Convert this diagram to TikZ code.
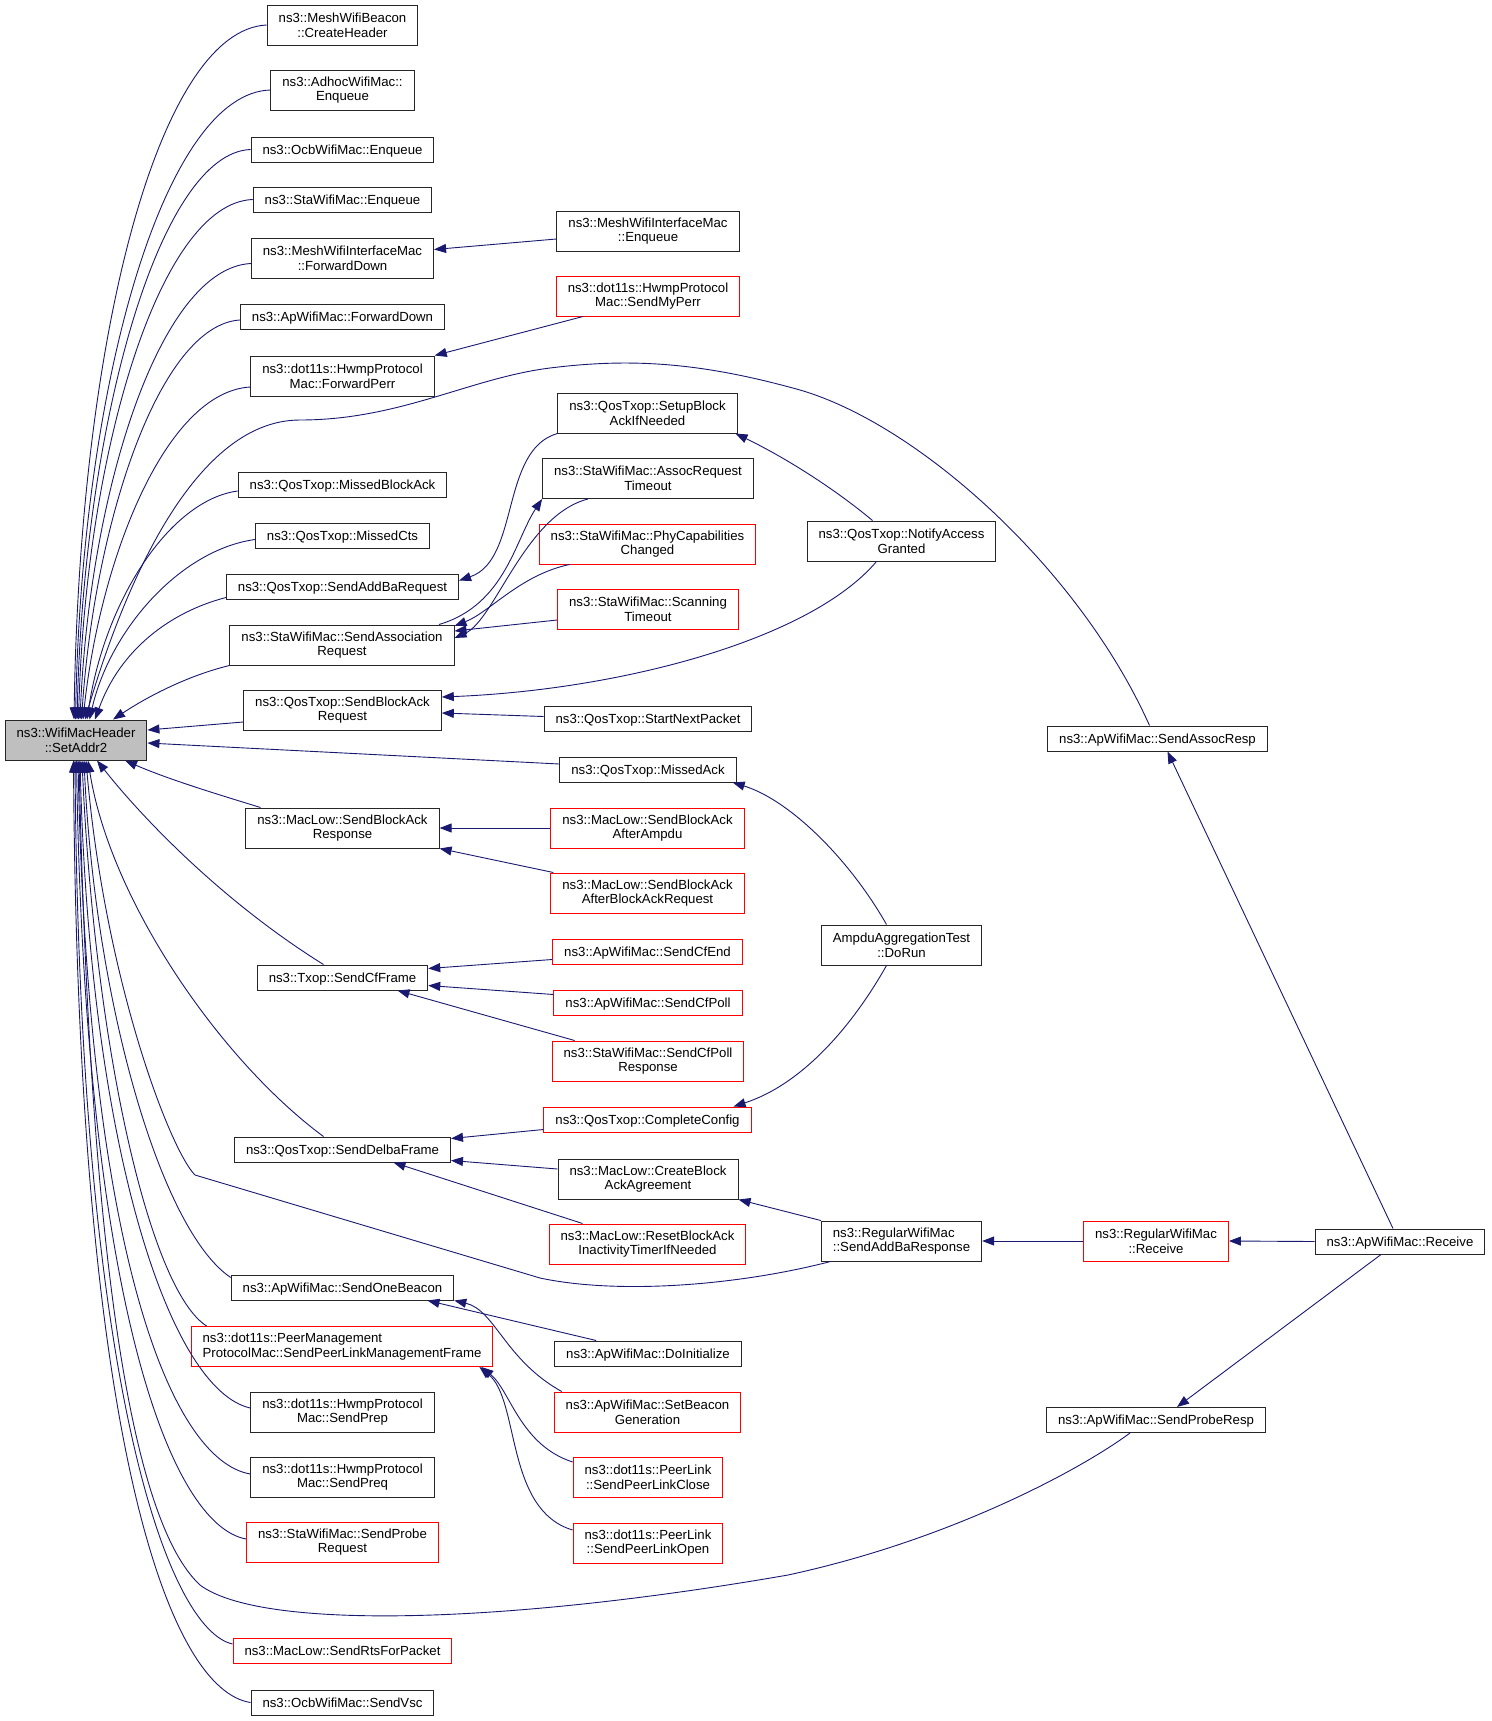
\documentclass[tikz,border=0pt]{standalone}
\usepackage{fontspec}
\setmainfont{Liberation Sans}
\usetikzlibrary{arrows.meta}
\definecolor{edgeblue}{HTML}{191970}
\definecolor{rootgray}{HTML}{BFBFBF}

\begin{document}
\begin{tikzpicture}[x=1pt,y=-1pt,
	fn/.style={draw=black!85,line width=1pt,rectangle,align=center,inner xsep=11.5pt,inner ysep=0pt,
		minimum height=25pt,text height=10pt,text depth=1pt,font=\fontsize{13.2pt}{14.7pt}\selectfont},
	two/.style={minimum height=40pt,text height=,text depth=},
	redfn/.style={fn,draw=red},
	call/.style={draw=edgeblue,line width=0.9pt,{Triangle[length=12pt,width=9pt]}-}]
	\useasboundingbox (0,0) rectangle (1491,1721);

	\node[fn,two,fill=rootgray] (root) at (76,740) {ns3::WifiMacHeader\\::SetAddr2};

	\node[fn,two] (beacon) at (342.5,25) {ns3::MeshWifiBeacon\\::CreateHeader};
	\node[fn,two] (adhoc) at (342.5,90) {ns3::AdhocWifiMac::\\Enqueue};
	\node[fn] (ocbenq) at (342.5,149.5) {ns3::OcbWifiMac::Enqueue};
	\node[fn] (staenq) at (342.5,199.5) {ns3::StaWifiMac::Enqueue};
	\node[fn,two] (meshfwd) at (342.5,258.5) {ns3::MeshWifiInterfaceMac\\::ForwardDown};
	\node[fn] (apfwd) at (342.5,317) {ns3::ApWifiMac::ForwardDown};
	\node[fn,two] (fwdperr) at (342.5,376) {ns3::dot11s::HwmpProtocol\\Mac::ForwardPerr};
	\node[fn] (missedba) at (342.5,485) {ns3::QosTxop::MissedBlockAck};
	\node[fn] (missedcts) at (342.5,535.5) {ns3::QosTxop::MissedCts};
	\node[fn] (addbareq) at (342.5,586.5) {ns3::QosTxop::SendAddBaRequest};
	\node[fn,two] (assocreq) at (342,645) {ns3::StaWifiMac::SendAssociation\\Request};
	\node[fn,two] (bareq) at (342.5,710) {ns3::QosTxop::SendBlockAck\\Request};
	\node[fn,two] (baresp) at (342.5,828) {ns3::MacLow::SendBlockAck\\Response};
	\node[fn] (cfframe) at (342.5,977.5) {ns3::Txop::SendCfFrame};
	\node[fn] (delba) at (342.5,1149.5) {ns3::QosTxop::SendDelbaFrame};
	\node[fn] (onebeacon) at (342.5,1287.5) {ns3::ApWifiMac::SendOneBeacon};
	\node[redfn,two,align=left] (peermgmt) at (342,1346.5) {ns3::dot11s::PeerManagement\\ProtocolMac::SendPeerLinkManagementFrame};
	\node[fn,two] (sendprep) at (342.5,1412) {ns3::dot11s::HwmpProtocol\\Mac::SendPrep};
	\node[fn,two] (sendpreq) at (342.5,1477) {ns3::dot11s::HwmpProtocol\\Mac::SendPreq};
	\node[redfn,two] (probereq) at (342.5,1542) {ns3::StaWifiMac::SendProbe\\Request};
	\node[redfn] (rts) at (342.5,1651) {ns3::MacLow::SendRtsForPacket};
	\node[fn] (vsc) at (342.5,1702.5) {ns3::OcbWifiMac::SendVsc};

	\node[fn,two] (meshenq) at (648,231) {ns3::MeshWifiInterfaceMac\\::Enqueue};
	\node[redfn,two] (myperr) at (648,296) {ns3::dot11s::HwmpProtocol\\Mac::SendMyPerr};
	\node[fn,two] (setupba) at (647.5,413) {ns3::QosTxop::SetupBlock\\AckIfNeeded};
	\node[fn,two] (assoctimeout) at (648,478.5) {ns3::StaWifiMac::AssocRequest\\Timeout};
	\node[redfn,two] (phycap) at (647.5,544) {ns3::StaWifiMac::PhyCapabilities\\Changed};
	\node[redfn,two] (scantimeout) at (648,609) {ns3::StaWifiMac::Scanning\\Timeout};
	\node[fn] (startnext) at (648,718.5) {ns3::QosTxop::StartNextPacket};
	\node[fn] (missedack) at (648,769.5) {ns3::QosTxop::MissedAck};
	\node[redfn,two] (afterampdu) at (647.5,828) {ns3::MacLow::SendBlockAck\\AfterAmpdu};
	\node[redfn,two] (afterbar) at (647.5,893) {ns3::MacLow::SendBlockAck\\AfterBlockAckRequest};
	\node[redfn] (cfend) at (647.5,951.5) {ns3::ApWifiMac::SendCfEnd};
	\node[redfn] (cfpoll) at (648,1002.5) {ns3::ApWifiMac::SendCfPoll};
	\node[redfn,two] (cfpollresp) at (648,1061) {ns3::StaWifiMac::SendCfPoll\\Response};
	\node[redfn] (completecfg) at (647.5,1119.5) {ns3::QosTxop::CompleteConfig};
	\node[fn,two] (createba) at (648,1179) {ns3::MacLow::CreateBlock\\AckAgreement};
	\node[redfn,two] (resetba) at (647.5,1244) {ns3::MacLow::ResetBlockAck\\InactivityTimerIfNeeded};
	\node[fn] (doinit) at (648,1353.5) {ns3::ApWifiMac::DoInitialize};
	\node[redfn,two] (setbeacon) at (647.5,1412) {ns3::ApWifiMac::SetBeacon\\Generation};
	\node[redfn,two] (plclose) at (648,1477) {ns3::dot11s::PeerLink\\::SendPeerLinkClose};
	\node[redfn,two] (plopen) at (648,1543) {ns3::dot11s::PeerLink\\::SendPeerLinkOpen};

	\node[fn,two] (notify) at (901.5,541) {ns3::QosTxop::NotifyAccess\\Granted};
	\node[fn,two] (dorun) at (901.5,945) {AmpduAggregationTest\\::DoRun};
	\node[fn,two,align=left] (addbaresp) at (901.5,1241) {ns3::RegularWifiMac\\::SendAddBaResponse};

	\node[fn] (assocresp) at (1157.5,738.5) {ns3::ApWifiMac::SendAssocResp};
	\node[redfn,two] (regrecv) at (1156,1241) {ns3::RegularWifiMac\\::Receive};
	\node[fn] (proberesp) at (1156,1420) {ns3::ApWifiMac::SendProbeResp};
	\node[fn] (aprecv) at (1400,1241.5) {ns3::ApWifiMac::Receive};

	\draw[call] ([xshift=-2pt]root.north) .. controls (80,330) and (160,30) .. (beacon.west);
	\draw[call] ([xshift=-0.5pt]root.north) .. controls (82,380) and (165,93) .. (adhoc.west);
	\draw[call] ([xshift=1pt]root.north) .. controls (84,420) and (160,153) .. (ocbenq.west);
	\draw[call] ([xshift=2.5pt]root.north) .. controls (86,450) and (160,203) .. (staenq.west);
	\draw[call] ([xshift=4pt]root.north) .. controls (90,490) and (160,268) .. ([yshift=-5pt]meshfwd.west);
	\draw[call] ([xshift=5.5pt]root.north) .. controls (95,520) and (160,325) .. ([yshift=-3pt]apfwd.west);
	\draw[call] ([xshift=7pt]root.north) .. controls (100,560) and (165,392) .. ([yshift=-11pt]fwdperr.west);
	\draw[call] ([xshift=9pt]root.north) .. controls (120,600) and (190,420) .. (300,420) .. controls (400,420) and (470,378) .. (550,368)
		.. controls (630,358) and (700,362) .. (800,390) .. controls (920,425) and (1080,570) .. ([xshift=-8pt]assocresp.north);
	\draw[call] ([xshift=11pt]root.north) .. controls (105,600) and (170,500) .. ([yshift=-6pt]missedba.west);
	\draw[call] ([xshift=13.5pt]root.north) .. controls (110,630) and (180,550) .. ([yshift=-4pt]missedcts.west);
	\draw[call] ([xshift=19pt]root.north) .. controls (120,650) and (170,612) .. ([yshift=-11pt]addbareq.west);
	\draw[call] ([xshift=37pt]root.north) .. controls (150,695) and (190,675) .. (assocreq.south west);

	\draw[call] ([yshift=10pt]root.east) -- ([yshift=-12pt]bareq.west);
	\draw[call] ([yshift=-3pt]root.east) -- ([yshift=5.5pt]missedack.west);

	\draw[call] ([xshift=49pt]root.south) .. controls (170,780) and (220,795) .. ([xshift=-82pt]baresp.north);
	\draw[call] ([xshift=21pt]root.south) .. controls (140,815) and (220,900) .. ([xshift=-19pt]cfframe.north);
	\draw[call] ([xshift=12pt]root.south) .. controls (110,900) and (220,1060) .. ([xshift=-19pt]delba.north);
	\draw[call] ([xshift=10pt]root.south) .. controls (105,980) and (170,1150) .. (195,1175) -- (540,1278)
		.. controls (620,1295) and (740,1285) .. ([xshift=-71pt]addbaresp.south);
	\draw[call] ([xshift=8pt]root.south) .. controls (95,1000) and (160,1230) .. ([yshift=10pt]onebeacon.west);
	\draw[call] ([xshift=6pt]root.south) .. controls (95,1050) and (150,1290) .. ([xshift=16pt]peermgmt.north west);
	\draw[call] ([xshift=4pt]root.south) .. controls (90,1150) and (170,1390) .. ([yshift=4pt]sendprep.west);
	\draw[call] ([xshift=2pt]root.south) .. controls (88,1250) and (170,1460) .. ([yshift=3pt]sendpreq.west);
	\draw[call] ([xshift=0.5pt]root.south) .. controls (85,1300) and (170,1525) .. ([yshift=3pt]probereq.west);
	\draw[call] ([xshift=3pt]root.south) .. controls (90,1250) and (130,1520) .. (200,1585) .. controls (260,1630) and (500,1625) .. (788,1575)
		.. controls (950,1540) and (1080,1470) .. ([xshift=-26pt]proberesp.south);
	\draw[call] ([xshift=-1pt]root.south) .. controls (80,1400) and (170,1630) .. ([yshift=7pt]rts.west);
	\draw[call] ([xshift=-2.5pt]root.south) .. controls (78,1450) and (170,1690) .. (vsc.west);

	\draw[call] ([yshift=9pt]meshfwd.east) -- ([yshift=-8pt]meshenq.west);
	\draw[call] (fwdperr.north east) -- ([xshift=-65pt]myperr.south);
	\draw[call] ([yshift=6pt]addbareq.east) .. controls (520,560) and (500,450) .. (setupba.south west);
	\draw[call] ([xshift=88pt]setupba.south) .. controls (780,455) and (830,485) .. ([xshift=-29pt]notify.north);
	\draw[call] ([yshift=19pt]assocreq.east) .. controls (490,612) and (520,575) .. ([xshift=-78pt]phycap.south);
	\draw[call] ([yshift=14pt]assocreq.east) -- ([yshift=-11pt]scantimeout.west);
	\draw[call] ([yshift=7pt]assocreq.east) .. controls (495,620) and (525,515) .. ([xshift=-60pt]assoctimeout.south);
	\draw[call] (assoctimeout.south west) .. controls (515,540) and (505,605) .. ([xshift=97pt]assocreq.north);
	\draw[call] ([yshift=13pt]bareq.east) .. controls (620,690) and (810,640) .. ([xshift=-25pt]notify.south);
	\draw[call] ([yshift=-3pt]bareq.east) -- ([yshift=2pt]startnext.west);
	\draw[call] (baresp.east) -- (afterampdu.west);
	\draw[call] (baresp.south east) -- ([xshift=3pt]afterbar.north west);
	\draw[call] ([yshift=9pt]cfframe.east) -- ([yshift=-8pt]cfend.west);
	\draw[call] ([yshift=-8pt]cfframe.east) -- ([yshift=8pt]cfpoll.west);
	\draw[call] ([xshift=55pt]cfframe.south) -- ([xshift=23pt]cfpollresp.north west);
	\draw[call] ([yshift=11pt]delba.east) -- ([yshift=-10pt]completecfg.west);
	\draw[call] ([yshift=-11pt]delba.east) -- ([yshift=10pt]createba.west);
	\draw[call] ([xshift=51pt]delba.south) -- ([xshift=34pt]resetba.north west);
	\draw[call] ([xshift=85pt]onebeacon.south) -- ([xshift=42pt]doinit.north west);
	\draw[call] (onebeacon.south east) .. controls (495,1310) and (505,1360) .. ([xshift=8pt]setbeacon.north west);
	\draw[call] ([xshift=-12pt]peermgmt.south east) .. controls (510,1390) and (520,1445) .. ([yshift=15pt]plclose.west);
	\draw[call] ([xshift=-14pt]peermgmt.south east) .. controls (520,1400) and (505,1510) .. ([yshift=13pt]plopen.west);

	\draw[call] ([xshift=-4pt]missedack.south east) .. controls (790,800) and (850,860) .. ([xshift=-15pt]dorun.north);
	\draw[call] ([xshift=-18pt]completecfg.north east) .. controls (800,1085) and (850,1030) .. ([xshift=-15pt]dorun.south);
	\draw[call] (createba.south east) -- (addbaresp.north west);
	\draw[call] (addbaresp.east) -- (regrecv.west);
	\draw[call] (regrecv.east) -- (aprecv.west);
	\draw[call] ([xshift=10pt]assocresp.south) -- ([xshift=-7pt]aprecv.north);
	\draw[call] ([xshift=21pt]proberesp.north) -- ([xshift=-19pt]aprecv.south);
\end{tikzpicture}
\end{document}
